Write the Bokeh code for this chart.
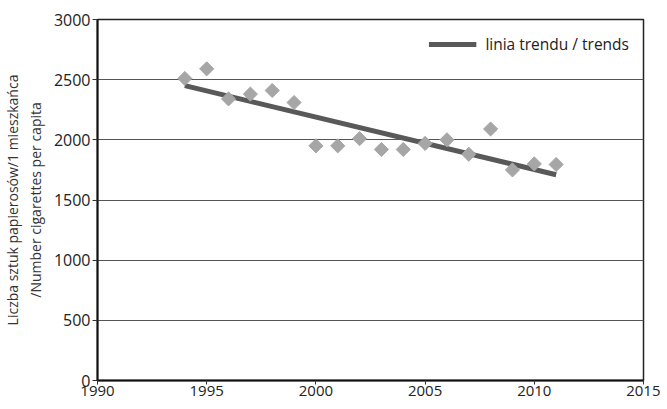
import math
from bokeh.plotting import figure
from bokeh.models import Range1d, Legend, LegendItem, FixedTicker
from bokeh.embed import file_html
from bokeh.resources import INLINE

years = [1994, 1995, 1996, 1997, 1998, 1999, 2000, 2001, 2002, 2003, 2004,
         2005, 2006, 2007, 2008, 2009, 2010, 2011]
cigarettes = [2510, 2590, 2340, 2380, 2410, 2310, 1950, 1950, 2010, 1920, 1920,
              1970, 2000, 1880, 2090, 1750, 1800, 1795]
trend_years = [1994, 2011]
trend_values = [2450, 1710]
x_ticks = [1990, 1995, 2000, 2005, 2010, 2015]
y_ticks = [0, 500, 1000, 1500, 2000, 2500, 3000]

FONT = "Open Sans"

p = figure(width=660, height=400, output_backend="svg", toolbar_location=None,
           x_range=Range1d(1990, 2015), y_range=Range1d(0, 3000),
           min_border_left=93, min_border_right=17, min_border_top=19,
           min_border_bottom=20)

p.background_fill_color = "white"
p.border_fill_color = "white"
p.outline_line_color = "#222222"
p.outline_line_width = 1.5

p.xgrid.grid_line_color = None
p.ygrid.grid_line_color = "#555555"
p.ygrid.grid_line_width = 1
p.ygrid.ticker = FixedTicker(ticks=y_ticks)

for ax in (p.xaxis[0], p.yaxis[0]):
    ax.axis_line_color = "#111111"
    ax.axis_line_width = 2
    ax.major_tick_line_color = "#333333"
    ax.major_tick_in = 0
    ax.major_tick_out = 5
    ax.minor_tick_line_color = None
    ax.major_label_text_font = FONT
    ax.major_label_text_color = "#222222"
    ax.major_label_standoff = 2

p.xaxis.ticker = FixedTicker(ticks=x_ticks)
p.yaxis.ticker = FixedTicker(ticks=y_ticks)
p.yaxis.major_label_text_font_size = "16px"
p.xaxis.major_label_text_font_size = "15px"
p.xaxis.major_tick_out = 4
p.xaxis.major_label_standoff = 1

p.yaxis.axis_label = "Liczba sztuk papierosów/1 mieszkańca\n/Number cigarettes per capita"
p.yaxis.axis_label_text_font = FONT
p.yaxis.axis_label_text_font_size = "14px"
p.yaxis.axis_label_text_font_style = "normal"
p.yaxis.axis_label_text_color = "#333333"
p.yaxis.axis_label_standoff = 6

trend = p.line(trend_years, trend_values, line_color="#595959", line_width=5)
p.scatter(years, cigarettes, marker="square", angle=math.pi / 4, size=10,
          fill_color="#a6a6a6", line_color="#a6a6a6")

legend = Legend(items=[LegendItem(label="linia trendu / trends", renderers=[trend])],
                location="top_right")
legend.border_line_color = None
legend.background_fill_alpha = 0
legend.label_text_font = FONT
legend.label_text_font_size = "15.5px"
legend.label_text_color = "#222222"
legend.glyph_width = 48
legend.label_standoff = 9
legend.margin = 14
legend.padding = 12
p.add_layout(legend)

open("out.html", "w").write(file_html(p, INLINE))
